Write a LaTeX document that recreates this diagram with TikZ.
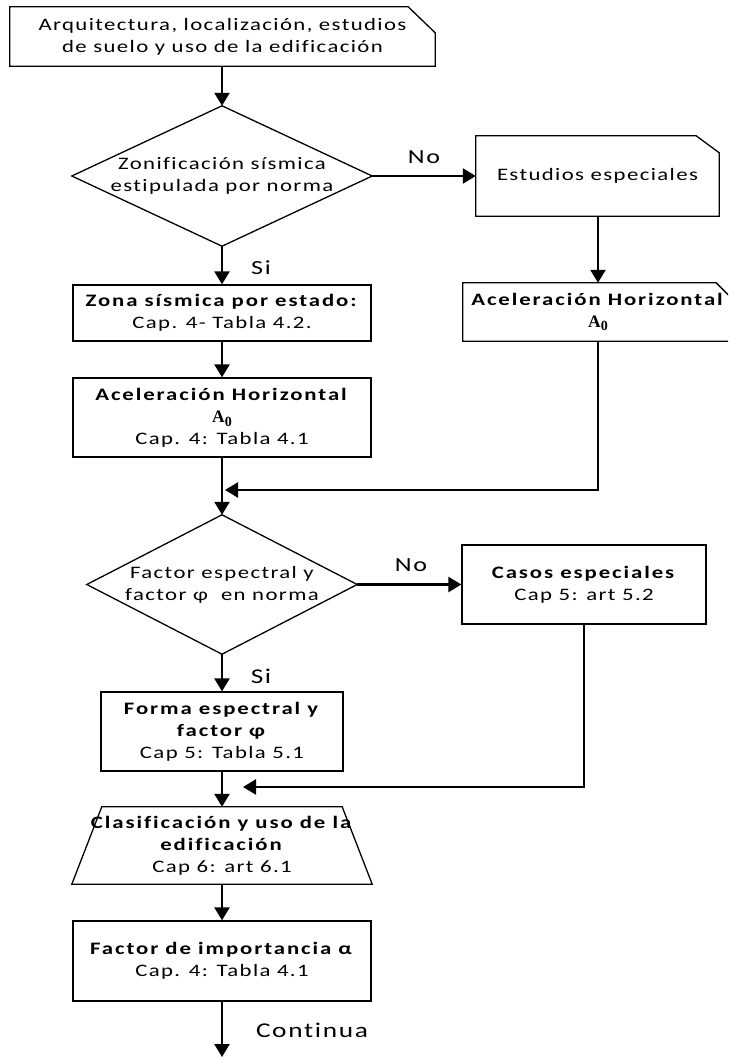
\documentclass[tikz,border=0pt]{standalone}
\usepackage{fontspec}
\setmainfont{Carlito}[Ligatures={NoCommon},FakeStretch=1.3,LetterSpace=8,BoldFeatures={LetterSpace=11}]
\newfontfamily\lblfont{Carlito}[Ligatures={NoCommon},FakeStretch=1.3,LetterSpace=8]
\newfontfamily\tms{Liberation Serif}
\usetikzlibrary{arrows.meta}
\newcommand{\Azero}{{\tms\bfseries A\raisebox{-0.22em}{\fontsize{14}{14}\selectfont 0}}}
\begin{document}
\begin{tikzpicture}[x=1pt,y=-1pt,
  txt/.style={inner sep=0pt, align=center, font=\fontsize{17.5}{22}\selectfont},
  rbox/.style={txt, draw, line width=1.3pt},
  shp/.style={draw, line width=1.3pt, line join=miter},
  conn/.style={line width=2.4pt, -{Triangle[length=13pt,width=15pt]}},
  lbl/.style={inner sep=0pt, font=\lblfont\fontsize{20}{22}\selectfont}
]
\path[use as bounding box] (0,0) rectangle (728,1057);
\clip (0,0) rectangle (728,1057);

% top card
\node[txt, minimum width=425pt, minimum height=59pt] (top) at (222.5,36.5)
  {Arquitectura, localización, estudios\\de suelo y uso de la edificación};
\draw[shp] (top.north west) -- ([xshift=-27pt]top.north east) -- ([yshift=-26pt]top.north east)
  -- (top.south east) -- (top.south west) -- cycle;

% decision 1
\node[txt, minimum width=300pt, minimum height=140pt] (d1) at (222,176)
  {Zonificación sísmica\\estipulada por norma};
\draw[shp] (d1.north) -- (d1.east) -- (d1.south) -- (d1.west) -- cycle;

% estudios especiales
\node[txt, minimum width=243pt, minimum height=80pt] (est) at (597.5,176) {Estudios especiales};
\draw[shp] (est.north west) -- ([xshift=-23pt]est.north east) -- ([yshift=-17pt]est.north east)
  -- (est.south east) -- (est.south west) -- cycle;

% zona
\node[rbox, minimum width=298pt, minimum height=56pt] (zona) at (222,313)
  {\textbf{Zona sísmica por estado:}\\Cap. 4- Tabla 4.2.};

% aceleracion right
\node[txt, minimum width=270pt, minimum height=58pt] (aceR) at (598,312)
  {\textbf{Aceleración Horizontal}\\\Azero};
\draw[shp] (aceR.north west) -- ([xshift=-17pt]aceR.north east) -- ([yshift=-17pt]aceR.north east)
  -- (aceR.south east) -- (aceR.south west) -- cycle;

% aceleracion left
\node[rbox, minimum width=298pt, minimum height=79pt] (aceL) at (222,417.5)
  {\textbf{Aceleración Horizontal}\\\Azero\\Cap. 4: Tabla 4.1};

% decision 2
\node[txt, minimum width=270pt, minimum height=139pt] (d2) at (222,584.5)
  {Factor espectral y\\factor φ\ \ en norma};
\draw[shp] (d2.north) -- (d2.east) -- (d2.south) -- (d2.west) -- cycle;

% casos especiales
\node[rbox, minimum width=244pt, minimum height=79pt] (casos) at (584,584.5)
  {\textbf{Casos especiales}\\Cap 5: art 5.2};

% forma espectral
\node[rbox, minimum width=242pt, minimum height=79pt] (forma) at (222,731.5)
  {\textbf{Forma espectral y}\\\textbf{factor φ}\\Cap 5: Tabla 5.1};

% trapezoid
\node[txt, minimum width=300pt, minimum height=77pt] (trap) at (222,845.5)
  {\textbf{Clasificación y uso de la}\\\textbf{edificación}\\Cap 6: art 6.1};
\draw[shp] ([xshift=30pt]trap.north west) -- ([xshift=-30pt]trap.north east)
  -- (trap.south east) -- (trap.south west) -- cycle;

% factor importancia
\node[rbox, minimum width=298pt, minimum height=80pt] (fact) at (222,961)
  {\textbf{Factor de importancia α}\\Cap. 4: Tabla 4.1};

% coordinates
\coordinate (m1) at (225,490);
\coordinate (m2) at (243,787);
\coordinate (endc) at (222,1057);

% connectors
\draw[conn] (top.south -| d1.north) -- (d1.north);
\draw[conn] (d1.east) -- (est.west);
\draw[conn] (d1.south) -- (zona.north);
\draw[conn] (est.south -| aceR.north) -- (aceR.north);
\draw[conn] (zona.south) -- (aceL.north);
\draw[conn] (aceR.south) |- (m1);
\draw[conn] (aceL.south) -- (d2.north);
\draw[conn] (d2.east) -- (casos.west);
\draw[conn] (d2.south) -- (forma.north);
\draw[conn] (casos.south) |- (m2);
\draw[conn] (forma.south) -- (trap.north);
\draw[conn] (trap.south) -- (fact.north);
\draw[conn] (fact.south) -- (endc);

% labels
\node[lbl] (no1) at (424,157) {No};
\node[lbl] (si1) at (261,268) {Si};
\node[lbl] (no2) at (411,565) {No};
\node[lbl, font=\lblfont\fontsize{21}{22}\selectfont] (si2) at (261,676) {Si};
\node[lbl, font=\lblfont\fontsize{21}{22}\selectfont] (cont) at (312,1030) {Continua};
\end{tikzpicture}
\end{document}
